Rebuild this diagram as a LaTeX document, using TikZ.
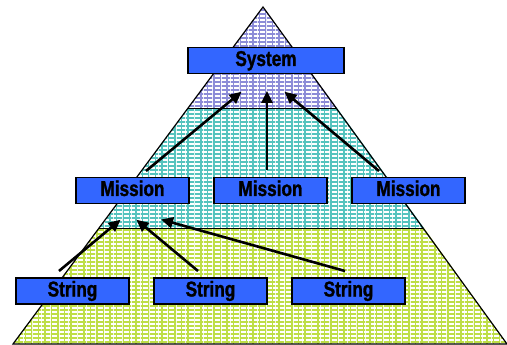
\documentclass[tikz,border=0pt]{standalone}
\usepackage{fontspec}
\setmainfont{Liberation Sans}[FakeStretch=0.8, BoldFeatures={FakeBold=1.3}]
\usetikzlibrary{arrows.meta}
\definecolor{purp}{RGB}{140,140,215}
\definecolor{teal1}{RGB}{85,195,190}
\definecolor{lime1}{RGB}{190,222,70}
\definecolor{boxblue}{RGB}{51,102,255}
\tikzset{
  lvlbox/.style={draw=black, line width=1.4pt, fill=boxblue, minimum width=113pt, minimum height=26pt, inner sep=0pt, text height=15pt, text depth=4pt, font=\fontsize{21.5}{22}\selectfont\bfseries},
  uparrow/.style={line width=2.6pt, -{Triangle[length=12pt,width=11pt]}, shorten >=-2pt}
}
\begin{document}
\begin{tikzpicture}[x=1pt,y=-1pt]
\useasboundingbox (0,0) rectangle (507,345);
% pyramid corners
\coordinate (apex) at (263,7);
\coordinate (bl) at (13,344);
\coordinate (br) at (507,344);
% band boundaries
\coordinate (p1l) at (188,108); \coordinate (p1r) at (337,108);
\coordinate (p2l) at (99,228);  \coordinate (p2r) at (424,228);
\fill[purp] (apex) -- (p1r) -- (p1l) -- cycle;
\fill[teal1] (p1l) -- (p1r) -- (p2r) -- (p2l) -- cycle;
\fill[lime1] (p2l) -- (p2r) -- (br) -- (bl) -- cycle;
\begin{scope}
  \clip (apex) -- (br) -- (bl) -- cycle;
  \foreach \y in {8,12,...,344} \draw[white, line width=1.2pt, dash pattern=on 5pt off 1.5pt] (0,\y) -- (507,\y);
  \foreach \x in {14,23,...,507} \draw[white, line width=1pt, opacity=0.8] (\x,0) -- (\x,345);
\end{scope}
\draw[line width=0.8pt] (p1l) -- (p1r);
\draw[line width=0.8pt] (p2l) -- (p2r);
\draw[line width=1.2pt, line join=miter] (apex) -- (br) -- (bl) -- cycle;
% boxes
\node[lvlbox, minimum width=156pt] (sys) at (266,60.5) {System};
\node[lvlbox] (m1) at (132.5,190.5) {Mission};
\node[lvlbox] (m2) at (270.5,190.5) {Mission};
\node[lvlbox] (m3) at (408.5,190.5) {Mission};
\node[lvlbox] (s1) at (72.5,291) {String};
\node[lvlbox] (s2) at (210.5,291) {String};
\node[lvlbox] (s3) at (348.5,291) {String};
% arrow targets
\coordinate (t1) at (240,93);
\coordinate (t2) at (267,93);
\coordinate (t3) at (286,93);
\coordinate (u1) at (119,221);
\coordinate (u2) at (138,221);
\coordinate (u3) at (163,220);
% arrow tails
\coordinate (a1) at (146,171);
\coordinate (a2) at (267,170);
\coordinate (a3) at (379,171);
\coordinate (b1) at (59,271);
\coordinate (b2) at (198,271);
\coordinate (b3) at (345,271);
\draw[uparrow] (a1) -- (t1);
\draw[uparrow] (a2) -- (t2);
\draw[uparrow] (a3) -- (t3);
\draw[uparrow] (b1) -- (u1);
\draw[uparrow] (b2) -- (u2);
\draw[uparrow] (b3) -- (u3);
\end{tikzpicture}
\end{document}
